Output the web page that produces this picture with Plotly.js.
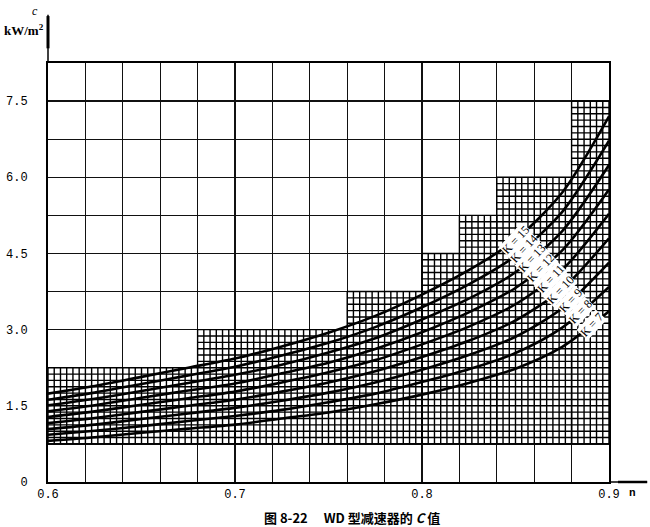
<!DOCTYPE html>
<html>
<head>
<meta charset="utf-8">
<script src="https://cdn.plot.ly/plotly-3.0.1.min.js"></script>
<style>html,body{margin:0;padding:0;background:#fff;}#chart{width:650px;height:527px;}</style>
</head>
<body>
<div id="chart"></div>
<script>
// ---- data ----
const n = [0.600, 0.625, 0.650, 0.675, 0.700, 0.725, 0.750, 0.775, 0.800, 0.825, 0.850, 0.875, 0.900];
const K7  = [0.81, 0.88, 0.97, 1.05, 1.13, 1.25, 1.37, 1.53, 1.72, 1.95, 2.23, 2.66, 3.36];
const K8  = [0.93, 1.01, 1.10, 1.20, 1.30, 1.42, 1.57, 1.74, 1.97, 2.22, 2.54, 3.04, 3.84];
const K9  = [1.04, 1.13, 1.24, 1.35, 1.46, 1.60, 1.76, 1.96, 2.21, 2.50, 2.86, 3.42, 4.32];
const K10 = [1.16, 1.26, 1.38, 1.50, 1.62, 1.78, 1.96, 2.18, 2.46, 2.78, 3.18, 3.80, 4.80];
const K11 = [1.28, 1.39, 1.52, 1.65, 1.78, 1.96, 2.16, 2.40, 2.71, 3.06, 3.50, 4.18, 5.28];
const K12 = [1.39, 1.51, 1.66, 1.80, 1.94, 2.14, 2.35, 2.62, 2.95, 3.34, 3.82, 4.56, 5.76];
const K13 = [1.51, 1.64, 1.79, 1.95, 2.11, 2.31, 2.55, 2.83, 3.20, 3.61, 4.13, 4.94, 6.24];
const K14 = [1.62, 1.76, 1.93, 2.10, 2.27, 2.49, 2.74, 3.05, 3.44, 3.89, 4.45, 5.32, 6.72];
const K15 = [1.74, 1.89, 2.07, 2.25, 2.43, 2.67, 2.94, 3.27, 3.69, 4.17, 4.77, 5.70, 7.20];
const seriesNames = ['K = 7', 'K = 8', 'K = 9', 'K = 10', 'K = 11', 'K = 12', 'K = 13', 'K = 14', 'K = 15'];

const xTickVals = [0.6, 0.7, 0.8, 0.9];
const xTickText = ['0.6', '0.7', '0.8', '0.9'];
const yTickVals = [0, 1.5, 3.0, 4.5, 6.0, 7.5];
const yTickText = ['0', '1.5', '3.0', '4.5', '6.0', '7.5'];

// shaded (fine-grid) region: stepped blocks
const fineX0  = [0.60, 0.68, 0.76, 0.80, 0.82, 0.84, 0.88];
const fineX1  = [0.68, 0.76, 0.80, 0.82, 0.84, 0.88, 0.90];
const fineTop = [2.25, 3.00, 3.75, 4.50, 5.25, 6.00, 7.50];
const fineBottom = 0.75;

// ---- build ----
const allSeries = [K7, K8, K9, K10, K11, K12, K13, K14, K15];

const fx = [], fy = [];
for (let b = 0; b < fineX0.length; b++) {
  const x0 = fineX0[b], x1 = fineX1[b], top = fineTop[b];
  const nv = Math.round((x1 - x0) / 0.02 * 6);
  for (let i = 0; i <= nv; i++) {
    const x = x0 + i * (x1 - x0) / nv;
    fx.push(x, x, null); fy.push(fineBottom, top, null);
  }
  const nh = Math.round((top - fineBottom) / 0.125);
  for (let j = 0; j <= nh; j++) {
    const y = fineBottom + j * (top - fineBottom) / nh;
    fx.push(x0, x1, null); fy.push(y, y, null);
  }
}

const traces = [{
  x: fx, y: fy, type: 'scatter', mode: 'lines',
  line: {color: '#000', width: 1.4}, hoverinfo: 'skip', showlegend: false
}];
allSeries.forEach((s, i) => {
  traces.push({
    x: n, y: s, type: 'scatter', mode: 'lines', name: seriesNames[i],
    line: {color: '#000', width: 2.6, shape: 'spline', smoothing: 0.8},
    showlegend: false
  });
});

function interp(xs, ys, x) {
  for (let i = 0; i < xs.length - 1; i++) {
    if (x >= xs[i] && x <= xs[i + 1]) {
      const t = (x - xs[i]) / (xs[i + 1] - xs[i]);
      return ys[i] + t * (ys[i + 1] - ys[i]);
    }
  }
  return ys[ys.length - 1];
}

// labels sit where each curve crosses a diagonal guide line (placement only)
const guideA = [0.8455, 4.95], guideB = [0.8915, 3.05];
function guideY(x) { return guideA[1] + (x - guideA[0]) * (guideB[1] - guideA[1]) / (guideB[0] - guideA[0]); }
function crossing(s) {
  let prev = null;
  for (let x = 0.82; x <= 0.9; x += 0.0002) {
    const d = interp(n, s, x) - guideY(x);
    if (prev !== null && prev < 0 && d >= 0) return x;
    prev = d;
  }
  return 0.89;
}
const annotations = allSeries.map((s, i) => {
  const cx = crossing(s);
  return {
    x: cx, y: interp(n, s, cx), xref: 'x', yref: 'y',
    text: seriesNames[i], showarrow: false, textangle: -47,
    font: {family: 'Liberation Serif', size: 12, color: '#000'},
    bgcolor: '#fff', borderpad: 0
  };
});

annotations.push(
  {xref: 'paper', yref: 'paper', x: -0.014, y: 1.125, xanchor: 'right', yanchor: 'middle',
   text: '<i>c</i>', showarrow: false,
   font: {family: 'Liberation Serif', size: 12, color: '#000'}},
  {xref: 'paper', yref: 'paper', x: -0.004, y: 1.078, xanchor: 'right', yanchor: 'middle',
   text: '<b>kW/m<sup>2</sup></b>', showarrow: false,
   font: {family: 'Liberation Serif', size: 13, color: '#000'}},
  {xref: 'paper', yref: 'paper', x: 1.041, y: -0.027, xanchor: 'center', yanchor: 'middle',
   text: '<b>n</b>', showarrow: false,
   font: {family: 'Liberation Mono', size: 11, color: '#000'}},
  {xref: 'paper', yref: 'paper', x: 0.542, y: -0.084, xanchor: 'center', yanchor: 'middle',
   text: '<b>图 8-22　 WD 型减速器的 <i>C</i> 值</b>', showarrow: false,
   font: {family: 'Noto Sans CJK SC', size: 13, color: '#000'}}
);

const gridStyle = {color: '#111', width: 1.3};
const layout = {
  width: 650, height: 527,
  margin: {l: 48, r: 41, t: 63, b: 45},
  paper_bgcolor: '#fff', plot_bgcolor: '#fff',
  showlegend: false,
  xaxis: {
    range: [0.6, 0.9], tickvals: xTickVals, ticktext: xTickText,
    showgrid: true, gridcolor: gridStyle.color, gridwidth: gridStyle.width,
    minor: {tick0: 0.6, dtick: 0.02, showgrid: true, gridcolor: gridStyle.color, gridwidth: gridStyle.width},
    showline: true, linecolor: '#000', linewidth: 2, mirror: true,
    ticks: '', zeroline: false,
    tickfont: {family: 'Liberation Mono', size: 12, color: '#000'}
  },
  yaxis: {
    range: [0, 8.25], tickvals: yTickVals, ticktext: yTickText,
    showgrid: true, gridcolor: gridStyle.color, gridwidth: gridStyle.width,
    minor: {tick0: 0, dtick: 0.75, showgrid: true, gridcolor: gridStyle.color, gridwidth: gridStyle.width},
    showline: true, linecolor: '#000', linewidth: 2, mirror: true,
    ticks: 'outside', ticklen: 16, tickcolor: 'rgba(0,0,0,0)', zeroline: false,
    tickfont: {family: 'Liberation Mono', size: 12, color: '#000'}
  },
  shapes: [
    {type: 'line', xref: 'paper', yref: 'paper', x0: 0, x1: 0, y0: 1, y1: 1.115, line: {color: '#000', width: 1.5}},
    {type: 'line', xref: 'paper', yref: 'paper', x0: 0, x1: 0, y0: 1.035, y1: 1.112, line: {color: '#000', width: 3}},
    {type: 'line', xref: 'paper', yref: 'paper', x0: 1, x1: 1.068, y0: 0, y1: 0, line: {color: '#000', width: 1.5}},
    {type: 'line', xref: 'paper', yref: 'paper', x0: 1.016, x1: 1.068, y0: 0, y1: 0, line: {color: '#000', width: 2.5}}
  ],
  annotations: annotations
};

Plotly.newPlot('chart', traces, layout, {staticPlot: true, displayModeBar: false});
</script>
</body>
</html>
